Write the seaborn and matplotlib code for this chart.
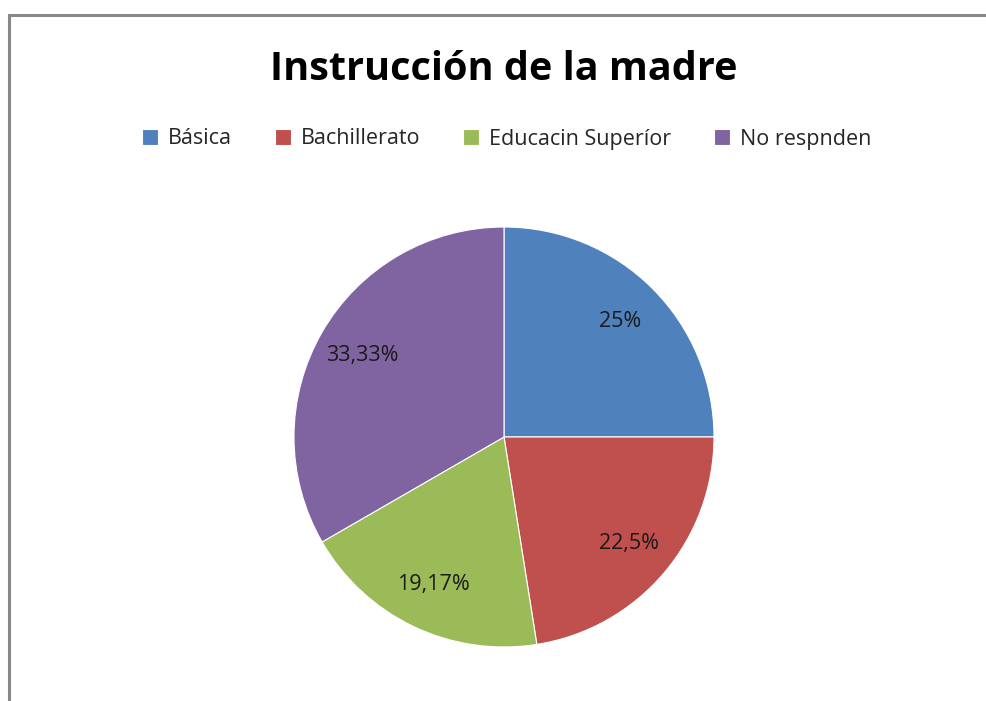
import matplotlib
matplotlib.use("Agg")
import matplotlib.pyplot as plt
import seaborn as sns
import numpy as np
from matplotlib.patches import Rectangle

# Datos
# ==============================================================================
categorias = ["Básica", "Bachillerato", "Educacin Superíor", "No respnden"]
porcentajes = [25, 22.5, 19.17, 33.33]
etiquetas = ["25%", "22,5%", "19,17%", "33,33%"]
colores = ["#4F81BD", "#C0504D", "#9BBB59", "#8064A2"]

sns.set_theme(style="white")
plt.rcParams['font.family'] = ['Open Sans', 'DejaVu Sans']

fig = plt.figure(figsize=(9.86, 7.01), dpi=100)

# marco del gráfico (solo se ven borde izquierdo y superior)
fig.patches.append(Rectangle((9 / 986, -0.1), 1.2, 1 - 15 / 701 + 0.1,
                             transform=fig.transFigure, fill=False,
                             edgecolor="#888888", linewidth=2.2))

# Gráfico de tarta
# ==============================================================================
ax = fig.add_axes([(504 - 210) / 986, (701 - 437 - 210) / 701, 420 / 986, 420 / 701])
cuñas, textos = ax.pie(
    porcentajes,
    colors=colores,
    startangle=90,
    counterclock=False,
    wedgeprops=dict(edgecolor="white", linewidth=0.8),
)
ax.set_xlim(-1, 1)
ax.set_ylim(-1, 1)
ax.set_aspect("equal")

for cuña, txt in zip(cuñas, etiquetas):
    ang = np.deg2rad((cuña.theta1 + cuña.theta2) / 2)
    ax.text(0.78 * np.cos(ang), 0.78 * np.sin(ang), txt,
            ha="center", va="center", fontsize=15.5, color="#1a1a1a")

fig.text(0.511, 1 - 70 / 701, "Instrucción de la madre", ha="center", va="center",
         fontsize=28.5, fontweight="bold", color="black")

fig.legend(cuñas, categorias, loc="center", bbox_to_anchor=(0.514, 1 - 139 / 701),
           ncol=4, frameon=False, fontsize=15.5, handlelength=0.75, handleheight=0.75,
           handletextpad=0.45, columnspacing=2.0)

fig.savefig("out.png", dpi=100, facecolor="white")
